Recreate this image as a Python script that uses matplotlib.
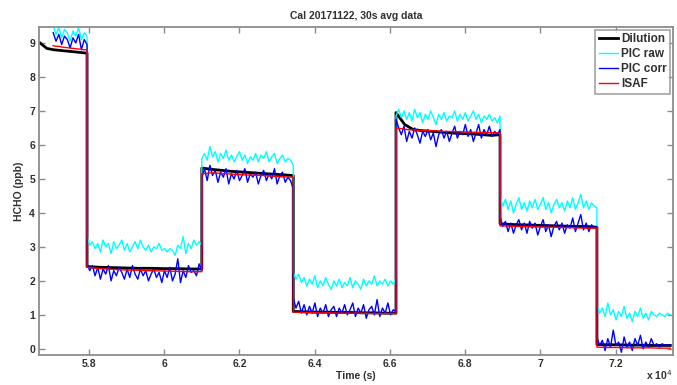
import numpy as np
import matplotlib
matplotlib.use("Agg")
import matplotlib.pyplot as plt

# ---------------- data ----------------
title = "Cal 20171122, 30s avg data"
xlabel = "Time (s)"
ylabel = "HCHO (ppb)"
series_names = ["Dilution", "PIC raw", "PIC corr", "ISAF"]

dil_start = 56700
pic_start = 57050
seg_edges = [57950, 61000, 63430, 66160, 68925, 71500, 73450]

raw_segs = [
    [9.5, 9.25, 9.45, 9.15, 9.4, 9.3, 9.05, 9.35, 9.2, 9.45, 9.1, 9.3, 9.2],
    [3.3, 3.05, 3.15, 2.95, 3.1, 2.85, 3.2, 3.0, 3.1, 2.8, 3.15, 2.95, 3.05, 3.2, 2.9, 3.1, 2.85, 3.0, 3.15, 2.95, 3.2, 3.0,
     2.9, 3.05, 2.85, 3.0, 2.95, 3.1, 2.9, 2.95, 2.85, 2.95, 2.9, 2.75, 3.05, 2.95, 3.3, 2.8, 3.1, 2.95, 3.2, 3.05, 3.15, 3.05],
    [5.6, 5.75, 5.55, 5.95, 5.65, 5.8, 5.5, 5.75, 5.6, 5.85, 5.55, 5.7, 5.5, 5.65, 5.8, 5.55, 5.7, 5.45, 5.65, 5.55, 5.75,
     5.5, 5.7, 5.6, 5.8, 5.5, 5.65, 5.75, 5.45, 5.6, 5.7, 5.5, 5.6, 5.55, 5.4],
    [2.25, 2.05, 2.2, 1.95, 2.1, 1.85, 2.05, 1.9, 2.15, 1.8, 2.0, 1.85, 2.1, 1.9, 1.75, 2.0, 1.85, 2.05, 1.8, 1.95, 1.85,
     2.1, 1.8, 2.0, 1.9, 1.75, 2.05, 1.85, 2.0, 1.9, 2.15, 1.85, 2.0, 1.9, 2.05, 1.85, 2.0, 1.9, 2.1],
    [6.85, 7.05, 6.8, 7.0, 6.75, 6.95, 6.7, 7.05, 6.8, 6.95, 6.65, 6.9, 6.75, 7.0, 6.8, 6.6, 6.9, 6.75, 6.95, 6.7, 6.85,
     6.8, 7.0, 6.7, 6.9, 6.75, 6.95, 6.7, 6.85, 7.0, 6.75, 6.9, 6.65, 6.85, 6.75, 6.9, 6.7, 6.8, 6.65, 6.85],
    [4.55, 4.2, 4.4, 4.1, 4.35, 4.0, 4.25, 4.45, 4.1, 4.3, 4.05, 4.35, 4.15, 4.4, 4.1, 4.25, 4.45, 4.1, 4.3, 4.0, 4.25,
     4.4, 4.15, 4.3, 4.05, 4.35, 4.15, 4.45, 4.1, 4.3, 4.55, 4.15, 4.35, 4.1, 4.3, 4.2, 4.15],
    [1.3, 1.05, 1.2, 0.95, 1.35, 1.0, 1.15, 0.85, 1.1, 0.95, 1.25, 0.9, 1.05, 0.8, 1.1, 0.95, 1.2, 0.9, 1.05, 0.85, 1.1,
     1.0, 0.95, 1.05, 1.0, 0.95, 1.05, 1.0],
]

corr_segs = [
    [9.3, 9.05, 9.25, 8.95, 9.2, 9.1, 8.85, 9.15, 9.0, 9.25, 8.8, 9.1, 8.95],
    [2.5, 2.3, 2.45, 2.15, 2.4, 2.05, 2.35, 2.2, 2.45, 2.0, 2.3, 2.15, 2.4, 2.25, 2.05, 2.35, 2.1, 2.45, 2.2, 2.05, 2.35,
     2.15, 2.3, 2.0, 2.2, 2.35, 2.1, 2.25, 1.95, 2.3, 2.1, 2.4, 2.0, 2.2, 2.65, 1.95, 2.3, 2.1, 2.45, 2.25, 2.3, 2.15, 2.5, 2.3],
    [5.05, 5.3, 4.95, 5.4, 5.1, 5.25, 4.9, 5.2, 5.05, 5.3, 4.85, 5.15, 5.0, 5.25, 4.95, 5.1, 5.3, 4.9, 5.15, 5.05, 5.2,
     4.85, 5.1, 5.25, 4.95, 5.15, 5.0, 5.3, 4.85, 5.1, 5.2, 4.9, 5.05, 4.95, 4.7],
    [1.5, 1.2, 1.4, 1.05, 1.3, 1.0, 1.25, 1.05, 1.35, 0.95, 1.2, 1.05, 1.3, 0.95, 1.15, 1.25, 0.95, 1.2, 1.05, 1.3, 1.0,
     1.15, 1.35, 0.95, 1.2, 1.05, 1.3, 0.9, 1.15, 1.25, 1.0, 1.45, 0.95, 1.2, 1.05, 1.35, 1.0, 1.15, 1.1],
    [6.75, 6.5, 6.3, 6.55, 6.1, 6.4, 6.2, 6.5, 6.3, 6.05, 6.4, 6.25, 6.45, 6.15, 6.35, 5.95, 6.3, 6.45, 6.2, 6.4, 6.1,
     6.35, 6.55, 6.2, 6.4, 6.3, 6.6, 6.25, 6.45, 6.1, 6.35, 6.6, 6.2, 6.45, 6.3, 6.55, 6.25, 6.4, 6.3, 6.45],
    [3.9, 3.6, 3.75, 3.45, 3.7, 3.4, 3.65, 3.8, 3.5, 3.7, 3.4, 3.75, 3.55, 3.7, 3.35, 3.6, 3.8, 3.45, 3.65, 3.3, 3.6,
     3.75, 3.5, 3.7, 3.4, 3.65, 3.55, 3.85, 3.45, 3.7, 3.95, 3.5, 3.7, 3.45, 3.65, 3.55, 3.6],
    [0.35, 0.1, 0.25, -0.05, 0.3, 0.05, 0.55, 0.1, 0.2, -0.1, 0.35, 0.05, 0.2, -0.05, 0.3, 0.1, 0.4, 0.0, 0.2, 0.05, 0.3,
     0.1, 0.15, 0.05, 0.15, 0.1, 0.12, 0.1],
]

dil_segs = [
    [9.0, 8.84, 8.8, 8.78, 8.76, 8.74, 8.72, 8.7],
    [2.42, 2.4, 2.39, 2.38, 2.37, 2.37, 2.36, 2.36, 2.35, 2.35],
    [5.32, 5.28, 5.25, 5.22, 5.2, 5.18, 5.16, 5.14, 5.12, 5.1],
    [1.1, 1.09, 1.08, 1.08, 1.07, 1.07, 1.06, 1.06, 1.05, 1.05],
    [6.95, 6.6, 6.45, 6.42, 6.4, 6.38, 6.36, 6.34, 6.33, 6.32, 6.3, 6.28, 6.3],
    [3.68, 3.66, 3.65, 3.64, 3.63, 3.62, 3.61, 3.6, 3.6, 3.58],
    [0.13, 0.12, 0.12, 0.11, 0.11, 0.1, 0.1, 0.1],
]

isaf_segs = [
    [8.92, 8.9, 8.9, 8.88, 8.87, 8.86, 8.85, 8.84, 8.83, 8.82, 8.81, 8.8, 8.8],
    [2.4, 2.36, 2.34, 2.32, 2.31, 2.3, 2.29, 2.28, 2.27, 2.27],
    [5.15, 5.18, 5.16, 5.14, 5.12, 5.11, 5.1, 5.08, 5.06, 5.05],
    [1.08, 1.07, 1.06, 1.06, 1.05, 1.05, 1.05, 1.04, 1.04, 1.04],
    [6.5, 6.45, 6.43, 6.42, 6.4, 6.39, 6.38, 6.37, 6.36, 6.35],
    [3.62, 3.61, 3.6, 3.59, 3.58, 3.58, 3.57, 3.56, 3.55, 3.55],
    [0.05, 0.04, 0.04, 0.03, 0.03, 0.03, 0.02, 0.02],
]

xticks = [58000, 60000, 62000, 64000, 66000, 68000, 70000, 72000]
xtick_labels = ["5.8", "6", "6.2", "6.4", "6.6", "6.8", "7", "7.2"]
yticks = [0, 1, 2, 3, 4, 5, 6, 7, 8, 9]


def build(segs, first_start):
    starts = [first_start] + seg_edges[:-1]
    ts, vs = [], []
    for s, e, vals in zip(starts, seg_edges, segs):
        ts.append(np.linspace(s, e, len(vals)))
        vs.append(np.asarray(vals, dtype=float))
    return np.concatenate(ts), np.concatenate(vs)


t_dil, v_dil = build(dil_segs, dil_start)
t_raw, v_raw = build(raw_segs, pic_start)
t_corr, v_corr = build(corr_segs, pic_start)
t_isaf, v_isaf = build(isaf_segs, pic_start)

# ---------------- plot ----------------
plt.rcParams['font.family'] = ['Liberation Sans', 'DejaVu Sans']
fig = plt.figure(figsize=(6.77, 3.85), dpi=100)
ax = fig.add_axes([0.058, 0.078, 0.936, 0.852])

ax.plot(t_dil, v_dil, color='black', lw=2.0, label=series_names[0])
ax.plot(t_raw, v_raw, color='#00ffff', lw=1.0, label=series_names[1])
ax.plot(t_corr, v_corr, color='#0000ff', lw=1.0, label=series_names[2])
ax.plot(t_isaf, v_isaf, color='#ff0000', lw=1.0, label=series_names[3])

ax.set_xlim(56680, 73520)
ax.set_ylim(-0.18, 9.47)
ax.set_xticks(xticks)
ax.set_xticklabels(xtick_labels)
ax.set_yticks(yticks)

txt_color = '#303030'
for sp in ax.spines.values():
    sp.set_color('#8c8c8c')
    sp.set_linewidth(1.3)
ax.tick_params(direction='in', length=4, width=1.0, color='#8c8c8c',
               top=True, right=True, labelsize=7.5, labelcolor=txt_color, pad=3)
for lab in ax.get_xticklabels() + ax.get_yticklabels():
    lab.set_fontweight('bold')

ax.set_title(title, fontsize=7.5, fontweight='bold', color=txt_color, pad=6)
ax.set_xlabel(xlabel, fontsize=7.5, fontweight='bold', color=txt_color, labelpad=1)
ax.set_ylabel(ylabel, fontsize=7.5, fontweight='bold', color=txt_color, labelpad=4)
fig.text(0.993, 0.008, r'x 10$^4$', ha='right', va='bottom',
         fontsize=7.5, fontweight='bold', color=txt_color)

leg = ax.legend(loc='upper right', fontsize=8.5, frameon=True, fancybox=False,
                handlelength=1.6, handletextpad=0.25, borderpad=0.3, labelspacing=0.25,
                borderaxespad=0.25)
leg.get_frame().set_edgecolor('#8c8c8c')
leg.get_frame().set_linewidth(1.2)
for t in leg.get_texts():
    t.set_fontweight('bold')
    t.set_color(txt_color)

fig.savefig('out.png', dpi=100)
